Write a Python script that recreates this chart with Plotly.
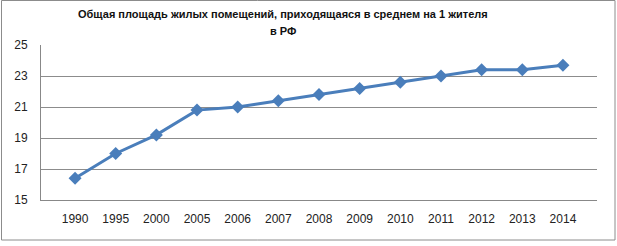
import plotly.graph_objects as go

years = ["1990", "1995", "2000", "2005", "2006", "2007", "2008", "2009",
         "2010", "2011", "2012", "2013", "2014"]
area = [16.4, 18.0, 19.2, 20.8, 21.0, 21.4, 21.8, 22.2, 22.6, 23.0, 23.4, 23.4, 23.7]
y_ticks = [15, 17, 19, 21, 23, 25]
title_line1 = "Общая площадь жилых помещений, приходящаяся в среднем на 1 жителя"
title_line2 = "в РФ"

W, H = 617, 246
L, R, T, B = 41, 20, 45, 46
PW, PH = W - L - R, H - T - B

fig = go.Figure()
fig.add_trace(go.Scatter(
    x=years, y=area, mode="lines+markers",
    line=dict(color="#4a7ebb", width=3),
    marker=dict(symbol="diamond", size=10, color="#4a7ebb"),
    showlegend=False, cliponaxis=False,
))

title_font = dict(family="Liberation Sans, Arial, sans-serif", size=11, color="#111")

fig.update_layout(
    width=W, height=H,
    margin=dict(l=L, r=R, t=T, b=B, autoexpand=False),
    paper_bgcolor="white", plot_bgcolor="white",
    font=dict(family="Liberation Sans, Arial, sans-serif", size=12, color="#222"),
    xaxis=dict(type="category", showgrid=False, showline=True, linecolor="#888",
               linewidth=1, ticks="", ticklabelstandoff=8, automargin=False),
    yaxis=dict(range=[15, 25], tickvals=y_ticks, showgrid=True, gridcolor="#8c8c8c",
               gridwidth=1, showline=True, linecolor="#888", linewidth=1,
               ticks="", zeroline=False, ticklabelstandoff=10, automargin=False),
)

for txt, yc in [(title_line1, 14), (title_line2, 31)]:
    fig.add_annotation(text="<b>" + txt + "</b>", xref="paper", yref="paper",
                       x=(283 - L) / PW, y=(H - B - yc) / PH,
                       xanchor="center", yanchor="middle", showarrow=False,
                       font=title_font)

fig.add_shape(type="rect", xref="paper", yref="paper",
              x0=(1.5 - L) / PW, x1=(615 - L) / PW,
              y0=(H - B - 240) / PH, y1=(H - B - 0.5) / PH,
              line=dict(color="#8c8c8c", width=1), layer="below")

fig.write_html("out.html", config={"displayModeBar": False},
               post_script="document.body.style.margin='0';")
